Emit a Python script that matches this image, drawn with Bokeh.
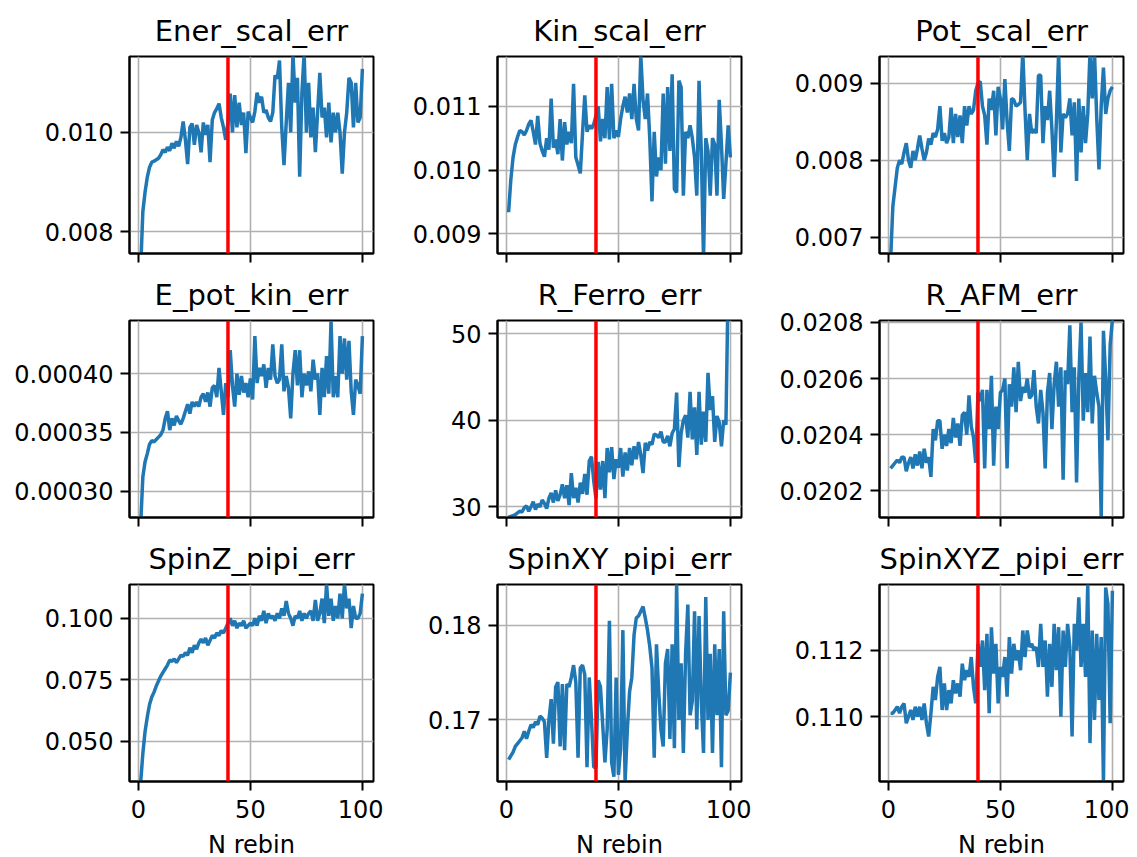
from bokeh.plotting import figure
from bokeh.layouts import column, row
from bokeh.models import Span, FixedTicker, PrintfTickFormatter, Range1d, CustomJSTickFormatter
from bokeh.embed import file_html
from bokeh.resources import INLINE

# ---------------- data ----------------
n_rebin = list(range(1, 101))
cut_rebin = 40

titles = ["Ener_scal_err", "Kin_scal_err", "Pot_scal_err",
          "E_pot_kin_err", "R_Ferro_err", "R_AFM_err",
          "SpinZ_pipi_err", "SpinXY_pipi_err", "SpinXYZ_pipi_err"]

ener_scal_err = [
    0.0072, 0.0084, 0.0088, 0.0091, 0.0093, 0.0094, 0.00942, 0.00945, 0.00948, 0.00955,
    0.00965, 0.00960, 0.00970, 0.00963, 0.00978, 0.00968, 0.00982, 0.00972, 0.00990, 0.01022,
    0.00985, 0.00936, 0.01010, 0.01018, 0.00975, 0.01015, 0.01000, 0.00960, 0.01020, 0.00995,
    0.01015, 0.00940, 0.01025, 0.01040, 0.01048, 0.01058, 0.01030, 0.01010, 0.00985, 0.01020,
    0.01078, 0.01000, 0.01075, 0.01010, 0.01060, 0.01015, 0.01040, 0.00958, 0.01042, 0.01030,
    0.01020, 0.01042, 0.01080, 0.01060, 0.01072, 0.01040, 0.01045, 0.01030, 0.01022, 0.01040,
    0.01115, 0.01108, 0.01145, 0.01010, 0.00934, 0.01020, 0.01100, 0.01000, 0.01160, 0.01060,
    0.01110, 0.00911, 0.01080, 0.01160, 0.01000, 0.01100, 0.00990, 0.01050, 0.00960, 0.01040,
    0.01120, 0.01030, 0.01050, 0.00990, 0.01060, 0.00980, 0.01040, 0.01000, 0.01040, 0.01000,
    0.00917, 0.01000, 0.01040, 0.01110, 0.01100, 0.01010, 0.01100, 0.01020, 0.01030, 0.01128]

kin_scal_err = [
    0.00934, 0.00985, 0.01020, 0.01040, 0.01052, 0.01062, 0.01060, 0.01055, 0.01062, 0.01072,
    0.01078, 0.01060, 0.01040, 0.01085, 0.01042, 0.01030, 0.01021, 0.01050, 0.01032, 0.01112,
    0.01035, 0.01048, 0.01025, 0.01080, 0.01015, 0.01075, 0.01040, 0.01060, 0.01042, 0.01135,
    0.01020, 0.01008, 0.00995, 0.01058, 0.01117, 0.01060, 0.01070, 0.01065, 0.01072, 0.01085,
    0.01100, 0.01045, 0.01080, 0.01050, 0.01130, 0.01048, 0.01135, 0.01050, 0.01062, 0.01052,
    0.01080, 0.01100, 0.01115, 0.01090, 0.01120, 0.01080, 0.01135, 0.01080, 0.01062, 0.01180,
    0.01110, 0.01080, 0.01120, 0.01050, 0.00951, 0.01060, 0.00990, 0.01020, 0.01000, 0.01120,
    0.01010, 0.01130, 0.01030, 0.01150, 0.00970, 0.00965, 0.01140, 0.01130, 0.00960, 0.01060,
    0.01050, 0.01070, 0.01050, 0.01020, 0.00960, 0.01140, 0.01030, 0.00860, 0.01050, 0.01030,
    0.00960, 0.01050, 0.01040, 0.00960, 0.01110, 0.01040, 0.00955, 0.01010, 0.01070, 0.01020]

pot_scal_err = [
    0.00670, 0.00740, 0.00765, 0.00790, 0.00800, 0.00795, 0.00810, 0.00822, 0.00800, 0.00790,
    0.00812, 0.00800, 0.00815, 0.00832, 0.00815, 0.00800, 0.00810, 0.00828, 0.00820, 0.00835,
    0.00830, 0.00840, 0.00870, 0.00825, 0.00835, 0.00822, 0.00830, 0.00868, 0.00822, 0.00860,
    0.00830, 0.00858, 0.00822, 0.00870, 0.00845, 0.00870, 0.00860, 0.00865, 0.00890, 0.00900,
    0.00902, 0.00870, 0.00858, 0.00820, 0.00880, 0.00865, 0.00890, 0.00832, 0.00895, 0.00880,
    0.00840, 0.00905, 0.00850, 0.00812, 0.00880, 0.00878, 0.00870, 0.00872, 0.00875, 0.00940,
    0.00865, 0.00800, 0.00860, 0.00835, 0.00840, 0.00835, 0.00910, 0.00910, 0.00822, 0.00870,
    0.00852, 0.00890, 0.00840, 0.00778, 0.00850, 0.00940, 0.00810, 0.00860, 0.00855, 0.00860,
    0.00880, 0.00832, 0.00875, 0.00773, 0.00880, 0.00810, 0.00870, 0.00822, 0.00860, 0.00940,
    0.00880, 0.00940, 0.00855, 0.00788, 0.00870, 0.00920, 0.00860, 0.00880, 0.00890, 0.00895]

e_pot_kin_err = [
    0.000270, 0.000312, 0.000325, 0.000332, 0.000340, 0.000343, 0.000342, 0.000344, 0.000346, 0.000348,
    0.000352, 0.000362, 0.000368, 0.000352, 0.000362, 0.000356, 0.000364, 0.000360, 0.000357, 0.000362,
    0.000368, 0.000374, 0.000366, 0.000376, 0.000372, 0.000376, 0.000372, 0.000380, 0.000383, 0.000376,
    0.000384, 0.000372, 0.000388, 0.000390, 0.000380, 0.000405, 0.000385, 0.000365, 0.000392, 0.000380,
    0.000420, 0.000390, 0.000372, 0.000400, 0.000382, 0.000398, 0.000384, 0.000392, 0.000380, 0.000396,
    0.000378, 0.000432, 0.000392, 0.000405, 0.000398, 0.000408, 0.000388, 0.000405, 0.000395, 0.000425,
    0.000398, 0.000392, 0.000395, 0.000425, 0.000385, 0.000398, 0.000388, 0.000362, 0.000400, 0.000420,
    0.000390, 0.000420, 0.000380, 0.000400, 0.000390, 0.000402, 0.000385, 0.000412, 0.000395, 0.000400,
    0.000365, 0.000405, 0.000380, 0.000415, 0.000383, 0.000445, 0.000380, 0.000398, 0.000380, 0.000432,
    0.000400, 0.000430, 0.000395, 0.000428, 0.000385, 0.000365, 0.000395, 0.000390, 0.000383, 0.000432]

r_ferro_err = [
    28.8, 28.9, 29.0, 29.1, 29.3, 29.5, 29.4, 29.9, 30.1, 29.5,
    30.0, 30.6, 29.7, 30.3, 30.0, 30.8, 30.4, 29.8, 31.0, 31.6,
    30.5, 31.9, 30.7, 31.4, 32.6, 31.0, 32.5, 30.2, 33.9, 31.0,
    32.2, 30.5, 32.8, 31.5, 33.8, 31.4, 35.3, 35.8, 33.0, 31.0,
    35.2, 32.0, 35.3, 31.0, 36.8, 34.0, 36.9, 33.2, 35.5, 34.5,
    36.8, 33.5, 36.3, 34.2, 36.8, 34.8, 37.0, 35.5, 37.5, 36.0,
    33.9, 37.4, 36.5, 37.5, 37.2, 38.4, 38.3, 38.0, 38.7, 37.5,
    37.5, 38.2, 37.0, 38.5, 39.0, 43.2, 34.6, 38.5, 40.0, 40.6,
    38.0, 43.3, 37.8, 41.5, 36.0, 43.3, 37.2, 41.0, 37.5, 45.5,
    41.2, 42.8, 37.5, 40.5, 39.8, 37.0, 40.0, 39.5, 56.0, 62.0]

r_afm_err = [
    0.02028, 0.02029, 0.02030, 0.02031, 0.02030, 0.02032, 0.02032, 0.02027, 0.02030, 0.02032,
    0.02028, 0.02033, 0.02029, 0.02034, 0.02028, 0.02035, 0.02030, 0.02032, 0.02025, 0.02042,
    0.02038, 0.02045, 0.02045, 0.02035, 0.02040, 0.02036, 0.02042, 0.02037, 0.02046, 0.02039,
    0.02044, 0.02036, 0.02047, 0.02048, 0.02040, 0.02054, 0.02043, 0.02039, 0.02030, 0.02055,
    0.02052, 0.02056, 0.02028, 0.02056, 0.02042, 0.02061, 0.02029, 0.02050, 0.02042, 0.02055,
    0.02056, 0.02060, 0.02028, 0.02058, 0.02050, 0.02064, 0.02048, 0.02066, 0.02052, 0.02057,
    0.02055, 0.02060, 0.02053, 0.02054, 0.02063, 0.02050, 0.02044, 0.02056, 0.02048, 0.02028,
    0.02055, 0.02062, 0.02042, 0.02058, 0.02066, 0.02050, 0.02064, 0.02024, 0.02063, 0.02058,
    0.02079, 0.02048, 0.02064, 0.02023, 0.02060, 0.02080, 0.02045, 0.02062, 0.02048, 0.02075,
    0.02044, 0.02061, 0.02055, 0.02050, 0.02010, 0.02077, 0.02060, 0.02038, 0.02072, 0.02081]

spinz_pipi_err = [
    0.0330, 0.0450, 0.0540, 0.0600, 0.0650, 0.0680, 0.0700, 0.0725, 0.0745, 0.0765,
    0.0780, 0.0795, 0.0810, 0.0830, 0.0825, 0.0835, 0.0820, 0.0835, 0.0850, 0.0845,
    0.0860, 0.0850, 0.0880, 0.0860, 0.0890, 0.0875, 0.0900, 0.0915, 0.0900, 0.0920,
    0.0890, 0.0910, 0.0930, 0.0920, 0.0940, 0.0930, 0.0950, 0.0940, 0.0960, 0.0980,
    0.1000, 0.0970, 0.0990, 0.0960, 0.0980, 0.0970, 0.0990, 0.0960, 0.0970, 0.0980,
    0.0970, 0.1000, 0.0970, 0.1010, 0.0990, 0.1030, 0.0980, 0.1020, 0.1000, 0.1010,
    0.0990, 0.1020, 0.1000, 0.1040, 0.1010, 0.1070, 0.1020, 0.1000, 0.0970, 0.1010,
    0.1000, 0.1030, 0.0990, 0.1020, 0.1000, 0.1020, 0.1030, 0.0990, 0.1075, 0.0990,
    0.1020, 0.1080, 0.0980, 0.1140, 0.1010, 0.1080, 0.0990, 0.1050, 0.1000, 0.1100,
    0.1000, 0.1140, 0.1040, 0.1080, 0.0960, 0.1050, 0.1000, 0.1000, 0.1020, 0.1100]

spinxy_pipi_err = [
    0.1658, 0.1662, 0.1666, 0.1672, 0.1675, 0.1678, 0.1681, 0.1688, 0.1680, 0.1688,
    0.1695, 0.1692, 0.1698, 0.1695, 0.1704, 0.1702, 0.1698, 0.1660, 0.1700, 0.1722,
    0.1675, 0.1735, 0.1740, 0.1672, 0.1738, 0.1668, 0.1738, 0.1735, 0.1745, 0.1758,
    0.1740, 0.1660, 0.1755, 0.1758, 0.1748, 0.1650, 0.1745, 0.1700, 0.1650, 0.1650,
    0.1742, 0.1735, 0.1695, 0.1655, 0.1690, 0.1805, 0.1655, 0.1640, 0.1745, 0.1642,
    0.1670, 0.1795, 0.1635, 0.1690, 0.1730, 0.1745, 0.1790, 0.1808, 0.1810, 0.1815,
    0.1820, 0.1808, 0.1795, 0.1778, 0.1755, 0.1660, 0.1780, 0.1730, 0.1690, 0.1672,
    0.1760, 0.1775, 0.1680, 0.1780, 0.1670, 0.1845, 0.1700, 0.1760, 0.1665, 0.1770,
    0.1822, 0.1705, 0.1720, 0.1815, 0.1690, 0.1810, 0.1720, 0.1665, 0.1830, 0.1700,
    0.1770, 0.1665, 0.1780, 0.1705, 0.1775, 0.1650, 0.1815, 0.1705, 0.1710, 0.1750]

spinxyz_pipi_err = [
    0.1101, 0.1101, 0.1102, 0.1103, 0.1101, 0.1103, 0.1104, 0.1098, 0.1100, 0.1102,
    0.1099, 0.1103, 0.1100, 0.1103, 0.1099, 0.1104, 0.1098, 0.1094, 0.1101, 0.1109,
    0.1105, 0.1112, 0.1115, 0.1102, 0.1110, 0.1102, 0.1108, 0.1104, 0.1111, 0.1107,
    0.1110, 0.1106, 0.1116, 0.1111, 0.1114, 0.1112, 0.1118, 0.1109, 0.1104, 0.1122,
    0.1115, 0.1123, 0.1108, 0.1125, 0.1101, 0.1127, 0.1113, 0.1122, 0.1104, 0.1115,
    0.1112, 0.1118, 0.1106, 0.1124, 0.1113, 0.1122, 0.1117, 0.1120, 0.1114, 0.1126,
    0.1118, 0.1126, 0.1121, 0.1122, 0.1120, 0.1121, 0.1115, 0.1128, 0.1115, 0.1123,
    0.1106, 0.1122, 0.1109, 0.1128, 0.1114, 0.1127, 0.1100, 0.1126, 0.1115, 0.1128,
    0.1121, 0.1094, 0.1128, 0.1120, 0.1136, 0.1115, 0.1128, 0.1112, 0.1140, 0.1092,
    0.1126, 0.1099, 0.1125, 0.1105, 0.1124, 0.1080, 0.1139, 0.1134, 0.1098, 0.1138]

series = [ener_scal_err, kin_scal_err, pot_scal_err,
          e_pot_kin_err, r_ferro_err, r_afm_err,
          spinz_pipi_err, spinxy_pipi_err, spinxyz_pipi_err]

y_limits = [(0.00756, 0.01153), (0.008694, 0.011779), (0.00679, 0.009344),
            (0.0002776, 0.0004453), (28.77, 51.54), (0.020105, 0.020807),
            (0.0337, 0.11372), (0.16349, 0.18433), (0.10804, 0.11399)]

y_ticks = [[0.008, 0.010], [0.009, 0.010, 0.011], [0.007, 0.008, 0.009],
           [0.00030, 0.00035, 0.00040], [30, 40, 50], [0.0202, 0.0204, 0.0206, 0.0208],
           [0.050, 0.075, 0.100], [0.17, 0.18], [0.110, 0.112]]

y_formats = ["%.3f", "%.3f", "%.3f", "%.5f", "%d", "%.4f", "%.3f", "%.2f", "%.3f"]

x_ticks = [0, 50, 100]
x_label = "N rebin"

# ---------------- styling ----------------
FONT = "DejaVu Sans"
BLUE = "#1f77b4"
GRID = "#b0b0b0"
left_border = [129, 114, 128]
right_border = [10, 10, 6]
top_border = [56, 55, 55]
bottom_border = [12, 12, 40]


def make_panel(i):
    r, c = divmod(i, 3)
    p = figure(frame_width=244, frame_height=197,
               output_backend="svg", toolbar_location=None,
               x_range=Range1d(-3.95, 104.95),
               y_range=Range1d(*y_limits[i]),
               min_border_left=left_border[c], min_border_right=right_border[c],
               min_border_top=top_border[r], min_border_bottom=bottom_border[r],
               background_fill_color="white", border_fill_color="white")
    p.title.text = titles[i]
    p.title.align = "center"
    p.title.text_font = FONT
    p.title.text_font_size = "29px"
    p.title.text_font_style = "normal"
    p.title.text_color = "black"
    p.title.standoff = 17

    xt = FixedTicker(ticks=x_ticks)
    yt = FixedTicker(ticks=y_ticks[i])
    p.xaxis.ticker = xt
    p.yaxis.ticker = yt
    p.xgrid.ticker = xt
    p.ygrid.ticker = yt
    p.yaxis.formatter = PrintfTickFormatter(format=y_formats[i])

    for ax in (p.xaxis[0], p.yaxis[0]):
        ax.axis_line_color = "black"
        ax.axis_line_width = 2
        ax.major_tick_out = 9
        ax.major_tick_in = 0
        ax.major_tick_line_width = 2
        ax.major_tick_line_color = "black"
        ax.minor_tick_out = 0
        ax.minor_tick_in = 0
        ax.minor_tick_line_color = None
        ax.major_label_text_font = FONT
        ax.major_label_text_font_size = "24px"
        ax.major_label_text_color = "black"
        ax.major_label_standoff = 7

    if r < 2:
        # shared x axis: tick marks only, no labels
        p.xaxis.formatter = CustomJSTickFormatter(code="return ''")
        p.xaxis.major_label_standoff = 0
    else:
        p.xaxis.formatter = PrintfTickFormatter(format="%d")
        p.xaxis.major_label_standoff = 9
        p.xaxis.axis_label = x_label
        p.xaxis.axis_label_text_font = FONT
        p.xaxis.axis_label_text_font_size = "24px"
        p.xaxis.axis_label_text_font_style = "normal"
        p.xaxis.axis_label_text_color = "black"
        p.xaxis.axis_label_standoff = 10

    for g in (p.xgrid[0], p.ygrid[0]):
        g.grid_line_color = GRID
        g.grid_line_width = 1.6

    p.outline_line_color = "black"
    p.outline_line_width = 2
    p.outline_line_alpha = 1.0

    p.line(n_rebin, series[i], line_color=BLUE, line_width=3.5)
    p.add_layout(Span(location=cut_rebin, dimension="height",
                      line_color="red", line_width=3.5))
    return p


panels = [make_panel(i) for i in range(9)]
layout = column(row(*panels[0:3]), row(*panels[3:6]), row(*panels[6:9]))

open("out.html", "w").write(file_html(layout, INLINE))
